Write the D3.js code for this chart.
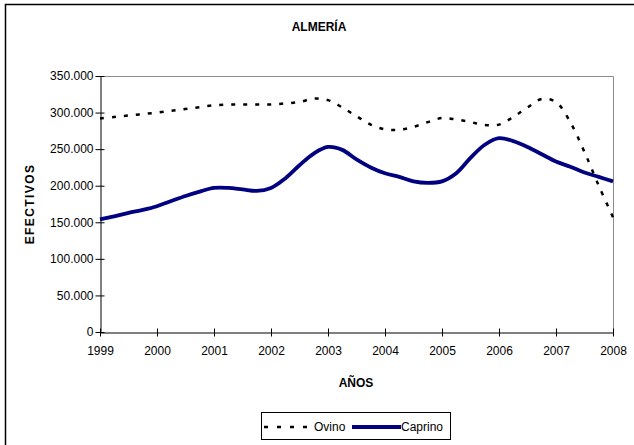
<!DOCTYPE html>
<html>
<head>
<meta charset="utf-8">
<script src="https://cdn.jsdelivr.net/npm/d3@7/dist/d3.min.js"></script>
<style>
  html, body { margin: 0; padding: 0; background: #fff; }
  svg { display: block; font-family: "Liberation Sans", Arial, sans-serif; }
</style>
</head>
<body>
<svg id="chart" width="634" height="445"></svg>
<script>
// ---- data ----
const title = "ALMERÍA";
const yTitle = "EFECTIVOS";
const xTitle = "AÑOS";
const yearTicks = [1999, 2000, 2001, 2002, 2003, 2004, 2005, 2006, 2007, 2008];
const yTicks = [0, 50000, 100000, 150000, 200000, 250000, 300000, 350000];
// positions of readings (fractional years)
const periods = [
  1999.00, 1999.25, 1999.50, 1999.75,
  2000.00, 2000.25, 2000.50, 2000.75,
  2001.00, 2001.25, 2001.50, 2001.75,
  2002.00, 2002.25, 2002.50, 2002.75,
  2003.00, 2003.25, 2003.50, 2003.75,
  2004.00, 2004.25, 2004.50, 2004.75,
  2005.00, 2005.25, 2005.50, 2005.75,
  2006.00, 2006.25, 2006.50, 2006.75,
  2007.00, 2007.25, 2007.50, 2007.75,
  2008.00
];
const ovino = [
  292000, 294000, 296000, 298000,
  300000, 302500, 305000, 307500,
  310000, 311000, 311000, 311000,
  311000, 312500, 314500, 319000,
  317000, 307000, 295000, 283500,
  277000, 276500, 280500, 287000,
  292500, 290500, 287000, 283000,
  283500, 294000, 307000, 318500,
  314500, 287000, 246000, 200000,
  157000
];
const caprino = [
  154000, 158000, 163000, 167000,
  172000, 179000, 186000, 192000,
  197000, 197000, 195000, 193000,
  197000, 210000, 228000, 244000,
  253000, 249000, 236000, 225000,
  217000, 212000, 206000, 204000,
  206000, 217000, 238000, 256000,
  265000, 261000, 253000, 243000,
  233000, 226000, 218000, 212000,
  206000
];
const seriesNames = ["Ovino", "Caprino"];

// ---- chart ----
const svg = d3.select("#chart");
const W = 634, H = 445;
const pL = 100, pR = 613, pT = 76, pB = 332;

const x = d3.scaleLinear().domain([1999, 2008]).range([pL, pR]);
const y = d3.scaleLinear().domain([0, 350000]).range([pB, pT]);

const loc = d3.formatLocale({decimal: ",", thousands: ".", grouping: [3], currency: ["", ""]});
const fmt = loc.format(",d");

// outer frame (top and left visible)
svg.append("path")
  .attr("d", `M5.5,${H} L5.5,4.5 L${W},4.5`)
  .attr("fill", "none").attr("stroke", "#000").attr("stroke-width", 1.5);

// plot area border (top and right gray)
svg.append("path")
  .attr("d", `M${pL},${pT + 0.5} L${pR + 0.5},${pT + 0.5} L${pR + 0.5},${pB}`)
  .attr("fill", "none").attr("stroke", "#8c8c8c").attr("stroke-width", 1);

// y axis
const yAxis = d3.axisLeft(y).tickValues(yTicks).tickFormat(d => fmt(d)).tickSizeInner(4).tickSizeOuter(0).tickPadding(5);
const gy = svg.append("g").attr("transform", `translate(${pL + 0.5},0)`).call(yAxis);
gy.select(".domain").attr("stroke", "#000");
gy.selectAll(".tick line").attr("x2", -5).attr("x1", 4).attr("stroke", "#000");
gy.selectAll(".tick text").attr("font-size", 12).attr("fill", "#000")
  .attr("font-family", "'Liberation Sans', Arial, sans-serif").attr("x", -7);

// x axis
const xAxis = d3.axisBottom(x).tickValues(yearTicks).tickFormat(d3.format("d")).tickSizeInner(4).tickSizeOuter(0).tickPadding(10);
const gx = svg.append("g").attr("transform", `translate(0,${pB + 0.5})`).call(xAxis);
gx.select(".domain").attr("stroke", "#000");
gx.selectAll(".tick line").attr("y1", -4).attr("y2", 4).attr("stroke", "#000");
gx.selectAll(".tick text").attr("font-size", 12).attr("fill", "#000")
  .attr("font-family", "'Liberation Sans', Arial, sans-serif");

// lines
const line = d3.line().x(d => x(d[0])).y(d => y(d[1])).curve(d3.curveCatmullRom.alpha(0.5));
svg.append("path")
  .datum(periods.map((p, i) => [p, caprino[i]]))
  .attr("d", line).attr("fill", "none")
  .attr("stroke", "#000080").attr("stroke-width", 3.8).attr("stroke-linejoin", "round");
svg.append("path")
  .datum(periods.map((p, i) => [p, ovino[i]]))
  .attr("d", line).attr("fill", "none")
  .attr("stroke", "#000").attr("stroke-width", 2.5).attr("stroke-dasharray", "4,8");

// titles
svg.append("text").attr("x", 319).attr("y", 31).attr("text-anchor", "middle")
  .attr("font-size", 12).attr("font-weight", "bold").text(title);
svg.append("text").attr("transform", `translate(34,${(pT + pB) / 2}) rotate(-90)`)
  .attr("text-anchor", "middle").attr("font-size", 12).attr("font-weight", "bold")
  .attr("letter-spacing", "1.4px").text(yTitle);
svg.append("text").attr("x", 356).attr("y", 387).attr("text-anchor", "middle")
  .attr("font-size", 12).attr("font-weight", "bold").text(xTitle);

// legend
const lg = svg.append("g");
lg.append("rect").attr("x", 261.5).attr("y", 412.5).attr("width", 189).attr("height", 27)
  .attr("fill", "#fff").attr("stroke", "#000").attr("stroke-width", 1);
lg.append("line").attr("x1", 264).attr("x2", 312).attr("y1", 427).attr("y2", 427)
  .attr("stroke", "#000").attr("stroke-width", 2.5).attr("stroke-dasharray", "4,9");
lg.append("text").attr("x", 314).attr("y", 431).attr("font-size", 12).text(seriesNames[0]);
lg.append("line").attr("x1", 352).attr("x2", 401).attr("y1", 427).attr("y2", 427)
  .attr("stroke", "#000080").attr("stroke-width", 3.8);
lg.append("text").attr("x", 401).attr("y", 431).attr("font-size", 12).text(seriesNames[1]);
</script>
</body>
</html>
